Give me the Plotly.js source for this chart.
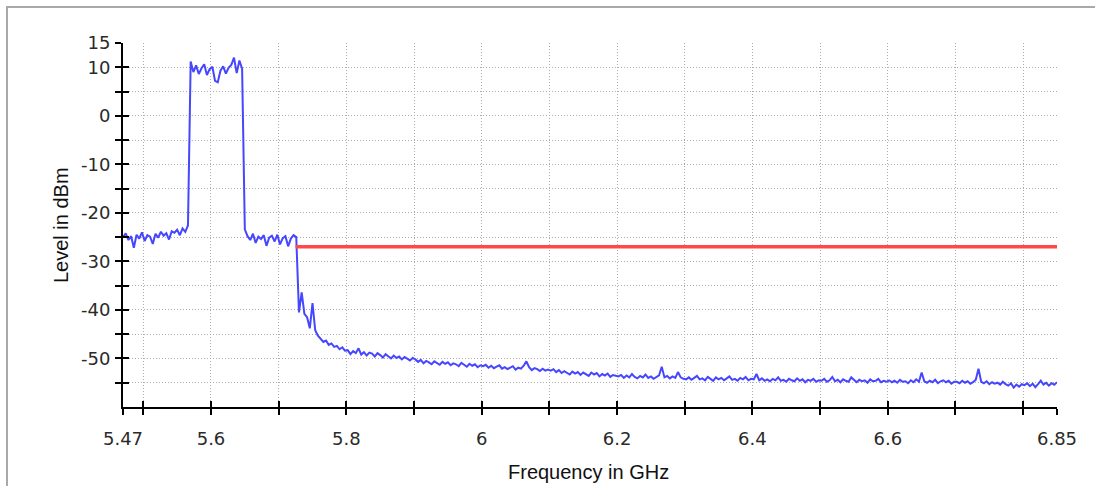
<!DOCTYPE html>
<html>
<head>
<meta charset="utf-8">
<script src="https://cdn.plot.ly/plotly-3.0.1.min.js"></script>
<style>
  html, body { margin:0; padding:0; background:#fff; }
  #frame { position:absolute; left:6px; top:6px; width:1089px; height:480px;
           border-left:2px solid #a9a9a9; border-top:2px solid #a9a9a9; box-sizing:border-box; }
  #chart { position:absolute; left:0; top:0; width:1095px; height:486px; }
</style>
</head>
<body>
<div id="frame"></div>
<div id="chart"></div>
<script>
// Sweep definition (GHz) – trace points are equally spaced over the sweep
const sweepStartGHz = 5.47;
const sweepStopGHz = 6.85;

// Trace levels (dBm), in sweep order
const levelsLowBand = [-25.0,-24.2,-25.6,-24.8,-27.2,-24.5,-25.3,-24.0,-25.8,-24.6,-24.9,-26.4,-24.3,-25.1,-23.9,-24.7,-24.2,-25.5,-23.8,-24.1,-23.5,-24.6,-23.2,-23.9,-22.6];
const levelsCarrier = [11.2,9.0,10.4,8.6,9.8,10.6,8.4,9.6,10.1,7.2,6.9,9.3,10.2,8.7,9.9,10.5,12.0,8.8,11.4,9.7];
const levelsShoulder = [-23.4,-24.8,-25.6,-24.3,-26.2,-24.9,-25.4,-24.6,-26.8,-25.1,-24.7,-25.9,-24.5,-26.5,-25.2,-24.8,-26.9,-25.3,-24.6,-25.0];
const levelsSkirt = [-40.5,-36.4,-40.8,-41.5,-43.8,-38.6,-44.2,-45.3,-46.0,-46.6,-46.3,-47.2,-46.9,-47.6,-47.4,-48.1,-47.7,-48.4];
const levelsFloor58 = [-48.3,-49.1,-48.5,-48.9,-47.9,-49.2,-48.7,-49.4,-48.8,-49.0,-49.6,-48.9,-49.3,-49.8,-49.1,-49.5,-50.0,-49.4,-49.9,-49.6,-50.2,-49.7,-50.1,-50.4,-49.9];
const levelsFloor59 = [-50.2,-50.7,-50.3,-51.0,-50.5,-50.8,-51.2,-50.6,-50.9,-51.3,-50.7,-51.1,-50.8,-51.4,-51.0,-51.2,-51.6,-50.9,-51.3,-51.7,-51.1,-51.5,-51.2,-51.8,-51.4];
const levelsFloor60 = [-51.6,-51.3,-51.9,-51.5,-52.0,-51.7,-51.4,-52.1,-51.8,-52.2,-51.9,-51.6,-52.3,-51.9,-52.1,-51.5,-50.6,-51.8,-52.4,-52.0,-52.2,-52.6,-52.1,-52.5,-52.3];
const levelsFloor61 = [-52.5,-52.2,-52.8,-52.4,-53.0,-52.6,-52.9,-53.3,-52.7,-53.1,-52.8,-53.4,-52.9,-53.2,-53.6,-52.9,-53.3,-53.0,-53.7,-53.2,-53.5,-53.1,-53.8,-53.4,-53.6];
const levelsFloor62 = [-53.7,-53.4,-54.0,-53.5,-53.9,-53.2,-53.8,-54.1,-53.6,-53.9,-53.3,-54.0,-53.7,-54.2,-53.8,-53.5,-51.7,-53.9,-53.6,-54.1,-53.7,-54.0,-52.8,-53.9,-54.2];
const levelsFloor63 = [-54.3,-53.9,-54.4,-54.0,-53.6,-54.3,-54.1,-54.5,-53.8,-54.2,-54.6,-53.9,-54.3,-54.0,-54.5,-54.1,-53.7,-54.4,-54.2,-54.6,-54.0,-54.3,-53.8,-54.5,-54.2];
const levelsFloor64 = [-54.3,-53.2,-54.5,-54.1,-54.6,-54.3,-54.7,-54.2,-54.5,-53.9,-54.6,-54.4,-54.8,-54.2,-54.5,-54.7,-54.1,-54.6,-54.3,-54.9,-54.4,-54.6,-54.2,-54.8,-54.5];
const levelsFloor65 = [-54.6,-54.2,-54.8,-54.5,-53.8,-54.7,-54.4,-54.9,-54.3,-54.6,-54.8,-53.9,-54.5,-54.9,-54.4,-54.7,-54.5,-55.0,-54.3,-54.7,-54.6,-54.2,-54.9,-54.6,-54.8];
const levelsFloor66 = [-54.5,-54.9,-54.6,-55.0,-54.4,-54.8,-54.7,-55.1,-54.5,-54.9,-54.3,-54.8,-52.9,-54.7,-55.0,-54.6,-54.9,-54.4,-55.1,-54.7,-54.5,-54.9,-54.6,-55.2,-54.8];
const levelsFloor67 = [-54.8,-55.1,-54.6,-55.0,-54.7,-55.2,-54.9,-54.4,-52.1,-54.8,-55.1,-54.7,-55.3,-54.9,-55.2,-55.0,-55.4,-54.8,-55.3,-55.6,-55.1,-56.0,-55.4,-55.8,-55.3];
const levelsFloor68 = [-55.5,-55.1,-55.7,-55.2,-55.9,-55.3,-54.6,-55.4,-55.0,-55.6,-55.1,-55.4,-54.9];

// Limit line
const limitFreqGHz = [5.725, 6.85];
const limitLevelDbm = [-27, -27];

// Axis ticks
const xTickVals = [5.47,5.5,5.6,5.7,5.8,5.9,6.0,6.1,6.2,6.3,6.4,6.5,6.6,6.7,6.8,6.85];
const xTickText = ['5.47','','5.6','','5.8','','6','','6.2','','6.4','','6.6','','','6.85'];
const yTickVals = [15,10,5,0,-5,-10,-15,-20,-25,-30,-35,-40,-45,-50,-55];
const yTickText = ['15','10','','0','','-10','','-20','','-30','','-40','','-50',''];

const levels = [].concat(levelsLowBand, levelsCarrier, levelsShoulder, levelsSkirt,
  levelsFloor58, levelsFloor59, levelsFloor60, levelsFloor61, levelsFloor62,
  levelsFloor63, levelsFloor64, levelsFloor65, levelsFloor66, levelsFloor67, levelsFloor68);
const step = (sweepStopGHz - sweepStartGHz) / (levels.length - 1);
const freqs = levels.map((_, i) => +(sweepStartGHz + i * step).toFixed(4));

const gridColor = '#acacac';
const gridDash = '1px,2px';
const tickFont = {family: 'DejaVu Sans', size: 18, color: '#2a2a2a'};

const traces = [
  {x: freqs, y: levels, type: 'scatter', mode: 'lines',
   line: {color: '#4646ff', width: 2}, hoverinfo: 'skip'},
  {x: limitFreqGHz, y: limitLevelDbm, type: 'scatter', mode: 'lines',
   line: {color: '#ff4848', width: 3.5}, hoverinfo: 'skip'},
  {x: [null], y: [null], xaxis: 'x2', yaxis: 'y2', type: 'scatter', mode: 'lines',
   showlegend: false, hoverinfo: 'skip'}
];

const plotL = 123, plotR = 1057, plotT = 43, plotB = 407;
const plotW = plotR - plotL, plotH = plotB - plotT;

const layout = {
  width: 1095, height: 486,
  margin: {l: plotL, r: 1095 - plotR, t: plotT, b: 486 - plotB, pad: 0},
  paper_bgcolor: 'rgba(0,0,0,0)', plot_bgcolor: 'rgba(0,0,0,0)',
  showlegend: false,
  xaxis: {
    range: [sweepStartGHz, sweepStopGHz], tickmode: 'array',
    tickvals: xTickVals, ticktext: xTickText, tickfont: tickFont,
    ticks: 'outside', ticklen: 6, tickwidth: 2, tickcolor: '#000',
    ticklabelstandoff: 8,
    showline: true, linecolor: '#000', linewidth: 2,
    showgrid: true, gridcolor: gridColor, griddash: gridDash, gridwidth: 1,
    zeroline: false, fixedrange: true
  },
  yaxis: {
    range: [-60, 15], tickmode: 'array',
    tickvals: yTickVals, ticktext: yTickText, tickfont: tickFont,
    ticks: 'outside', ticklen: 6, tickwidth: 2, tickcolor: '#000',
    ticklabelstandoff: 1,
    showline: true, linecolor: '#000', linewidth: 2,
    showgrid: true, gridcolor: gridColor, griddash: gridDash, gridwidth: 1,
    zeroline: false, fixedrange: true
  },
  xaxis2: {
    overlaying: 'x', side: 'bottom', anchor: 'y2',
    range: [sweepStartGHz, sweepStopGHz], tickmode: 'array', tickvals: xTickVals,
    ticks: 'inside', ticklen: 6, tickwidth: 2, tickcolor: '#000',
    showticklabels: false, showgrid: false, showline: false, zeroline: false
  },
  yaxis2: {
    overlaying: 'y', side: 'left', anchor: 'x2',
    range: [-60, 15], tickmode: 'array', tickvals: yTickVals,
    ticks: 'inside', ticklen: 6, tickwidth: 2, tickcolor: '#000',
    showticklabels: false, showgrid: false, showline: false, zeroline: false
  },
  annotations: [
    {text: 'Level in dBm', xref: 'paper', yref: 'paper',
     x: (61 - plotL) / plotW, y: (plotB - 225) / plotH, textangle: -90,
     xanchor: 'center', yanchor: 'middle', showarrow: false,
     font: {family: 'Liberation Sans', size: 20, color: '#111'}},
    {text: 'Frequency in GHz', xref: 'paper', yref: 'paper',
     x: (588 - plotL) / plotW, y: (plotB - 472) / plotH,
     xanchor: 'center', yanchor: 'middle', showarrow: false,
     font: {family: 'Liberation Sans', size: 20, color: '#111'}}
  ]
};

Plotly.newPlot('chart', traces, layout, {displayModeBar: false, staticPlot: true});
</script>
</body>
</html>
